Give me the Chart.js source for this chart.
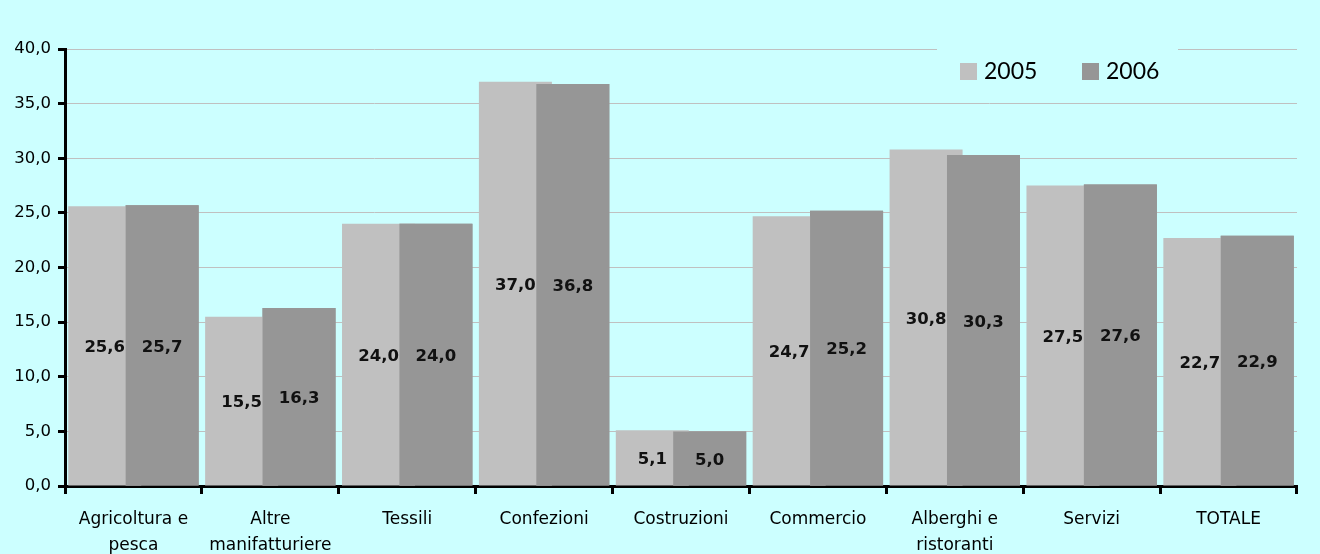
<!DOCTYPE html>
<html>
<head>
<meta charset="utf-8">
<script src="https://cdn.jsdelivr.net/npm/chart.js@4.4.1/dist/chart.umd.min.js"></script>
<style>
  html, body { margin: 0; padding: 0; background: #ccffff; }
  #wrap { width: 1320px; height: 554px; }
</style>
</head>
<body>
<div id="wrap"><canvas id="chart" width="1320" height="554"></canvas></div>
<script>
// Chart data
const categories = [
    ['Agricoltura e', 'pesca'],
    ['Altre', 'manifatturiere'],
    'Tessili',
    'Confezioni',
    'Costruzioni',
    'Commercio',
    ['Alberghi e', 'ristoranti'],
    'Servizi',
    'TOTALE'
];
const seriesNames = ['2005', '2006'];
const values2005 = [25.6, 15.5, 24.0, 37.0, 5.1, 24.7, 30.8, 27.5, 22.7];
const values2006 = [25.7, 16.3, 24.0, 36.8, 5.0, 25.2, 30.3, 27.6, 22.9];
const yTickValues = [0, 5, 10, 15, 20, 25, 30, 35, 40];

const colors = ['#c0c0c0', '#969696'];
const bgColor = '#ccffff';

function fmt(v) {
    return v.toFixed(1).replace('.', ',');
}

// 2006 bars overlap the 2005 ones, so draw them again on top, then the value labels
const barOverlay = {
    id: 'barOverlay',
    afterDatasetsDraw(chart) {
        chart.getDatasetMeta(1).controller.draw();

        const ctx = chart.ctx;
        ctx.save();
        ctx.fillStyle = '#111';
        ctx.font = 'bold 16.5px "DejaVu Sans"';
        ctx.textAlign = 'center';
        ctx.textBaseline = 'middle';
        chart.data.datasets.forEach((ds, i) => {
            chart.getDatasetMeta(i).data.forEach((bar, j) => {
                ctx.fillText(fmt(ds.data[j]), bar.x, (bar.y + bar.base) / 2 + 2);
            });
        });
        ctx.restore();
    }
};

// legend sits inside the plot area, over the top gridline
const boxLegend = {
    id: 'boxLegend',
    afterDraw(chart) {
        const ctx = chart.ctx;
        ctx.save();
        ctx.fillStyle = bgColor;
        ctx.fillRect(937, 38, 241, 60);
        ctx.font = '23px Lato';
        ctx.textBaseline = 'middle';
        const starts = [960, 1082];
        chart.data.datasets.forEach((ds, i) => {
            ctx.fillStyle = ds.backgroundColor;
            ctx.fillRect(starts[i], 63, 17, 17);
            ctx.fillStyle = '#000';
            ctx.fillText(ds.label, starts[i] + 24, 72);
        });
        ctx.restore();
    }
};

const ctx = document.getElementById('chart').getContext('2d');
Chart.defaults.font.family = '"DejaVu Sans", Verdana, sans-serif';
Chart.defaults.color = '#000';

new Chart(ctx, {
    type: 'bar',
    data: {
        labels: categories,
        datasets: [
            {
                label: seriesNames[0],
                data: values2005,
                backgroundColor: colors[0],
                borderWidth: 0,
                inflateAmount: 0,
                categoryPercentage: 0.8386,
                barPercentage: 1.272
            },
            {
                label: seriesNames[1],
                data: values2006,
                backgroundColor: colors[1],
                borderWidth: 0,
                inflateAmount: 0,
                categoryPercentage: 0.8386,
                barPercentage: 1.272
            }
        ]
    },
    options: {
        responsive: false,
        animation: false,
        layout: { padding: { top: 49, right: 23, left: 0, bottom: 0 } },
        plugins: {
            legend: { display: false },
            tooltip: { enabled: false }
        },
        scales: {
            x: {
                border: { color: '#000', width: 3 },
                grid: {
                    offset: true,
                    drawOnChartArea: false,
                    drawTicks: true,
                    tickLength: 8,
                    tickColor: '#000',
                    tickWidth: 3
                },
                ticks: {
                    padding: 13,
                    maxRotation: 0,
                    autoSkip: false,
                    font: { size: 17, lineHeight: 1.5 }
                },
                afterFit(scale) { scale.height = 68; }
            },
            y: {
                min: 0,
                max: 40,
                border: { color: '#000', width: 3 },
                grid: {
                    color: '#c0c0c0',
                    lineWidth: 1,
                    tickLength: 7,
                    tickColor: '#000',
                    tickWidth: 3
                },
                afterBuildTicks(scale) {
                    scale.ticks = yTickValues.map(v => ({ value: v }));
                },
                ticks: {
                    padding: 7,
                    font: { size: 16.5 },
                    callback: v => fmt(v)
                },
                afterFit(scale) { scale.width = 65; }
            }
        }
    },
    plugins: [barOverlay, boxLegend]
});
</script>
</body>
</html>
